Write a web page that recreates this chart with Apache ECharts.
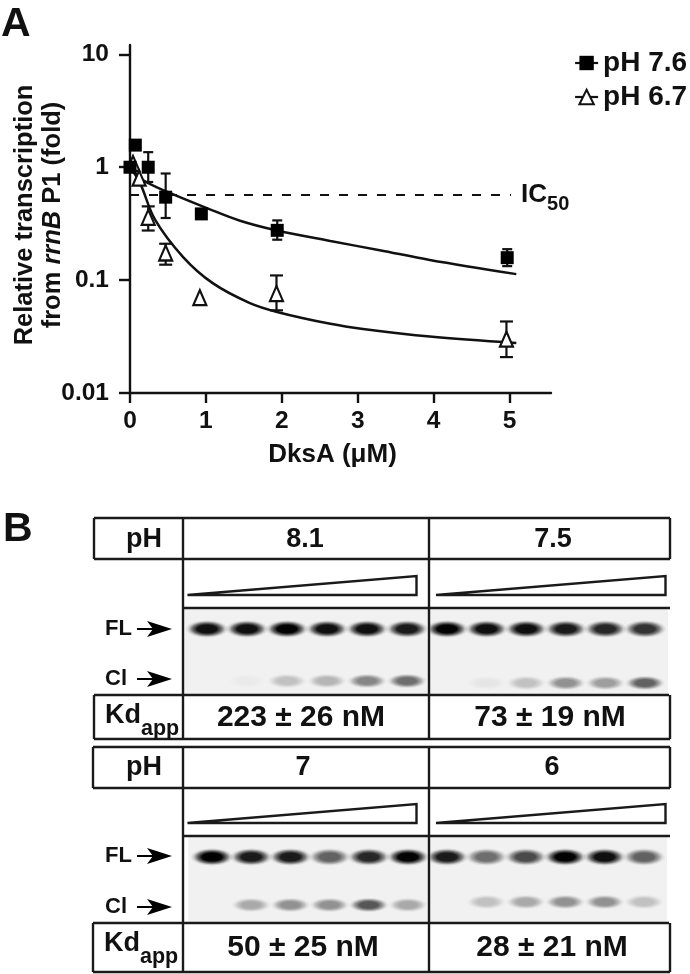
<!DOCTYPE html>
<html><head><meta charset="utf-8">
<style>html,body{margin:0;padding:0;background:#fff}#c{width:690px;height:974px}</style>
<script src="https://cdn.jsdelivr.net/npm/echarts@6/dist/echarts.min.js"></script>
</head><body><div id="c"></div>
<script>
// Panel A data: [DksA uM, relative transcription]
const ph76Points = [[0,1],[0.07,1.57],[0.24,1],[0.47,0.543],[0.94,0.386],[1.94,0.276],[4.97,0.158]];
const ph67Points = [[0.04,1.08],[0.12,0.8],[0.24,0.36],[0.47,0.174],[0.92,0.07],[1.93,0.076],[4.96,0.03]];
// [DksA uM, low, high]
const ph76Errors = [[0.24,0.74,1.36],[0.47,0.355,0.88],[1.94,0.228,0.338],[4.97,0.133,0.188]];
const ph67Errors = [[0.24,0.275,0.45],[0.47,0.137,0.21],[1.93,0.054,0.11],[4.96,0.0208,0.043]];
const ph76Curve = [[0,1],[0.17,0.77],[0.47,0.614],[1.03,0.43],[1.45,0.336],[1.94,0.275],[2.64,0.222],[3.29,0.184],[3.95,0.151],[5.09,0.113]];
const ph67Curve = [[0,1],[0.13,0.73],[0.33,0.343],[0.7,0.16],[1.09,0.094],[1.58,0.0626],[1.95,0.052],[2.64,0.041],[3.07,0.0369],[3.95,0.0316],[5.09,0.0277]];
const ic50 = 0.574;
const yTicks = [0.01,0.1,1,10];
// Panel B data
const headerLabels = ['8.1','7.5','7','6'];
const kdLabels = ['223 ± 26 nM','73 ± 19 nM','50 ± 25 nM','28 ± 21 nM'];
const flBands = [[.95,.95,1,.95,.95,.9],[1,.95,.95,.9,.85,.8],[1,.9,.9,.6,.85,1],[.9,.55,.7,1,.95,.6]];
const clBands = [[0,.03,.2,.25,.45,.55],[0,.05,.2,.4,.35,.6],[0,.3,.4,.4,.65,.3],[0,.2,.3,.4,.4,.2]];

const FONT = '"Liberation Sans", Arial, sans-serif';
const INK = '#111';
const chart = echarts.init(document.getElementById('c'), null, {renderer:'canvas'});

// ---- layout of the four gels
const gelBox = [
 {l:184,r:429,t:609,b:695,x1:207,x6:407,fl:629,cl:681},
 {l:429,r:668,t:609,b:695,x1:447,x6:645,fl:629,cl:683},
 {l:188,r:429,t:837,b:923,x1:212,x6:408,fl:857,cl:905},
 {l:429,r:667,t:837,b:923,x1:447,x6:644,fl:857,cl:902}
];
const grids = [{left:130,right:690-551,top:45,bottom:974-393,outerBoundsMode:'none'}];
const xAxes = [{
  type:'value',gridIndex:0,min:0,max:5.547,interval:1,
  splitLine:{show:false},
  axisLine:{onZero:false,lineStyle:{color:INK,width:2.4}},
  axisTick:{length:10,lineStyle:{color:INK,width:2.4},customValues:[0,1,2,3,4,5]},
  axisLabel:{margin:16,fontFamily:FONT,fontWeight:'bold',fontSize:24.5,color:INK,customValues:[0,1,2,3,4,5]},
  name:'DksA (μM)',nameLocation:'middle',nameGap:49,nameMoveOverlap:false,
  nameTextStyle:{fontFamily:FONT,fontWeight:'bold',fontSize:26,color:INK,padding:[0,16,0,0]}
}];
const yAxes = [{
  type:'log',gridIndex:0,logBase:10,min:0.01,max:12.1,
  splitLine:{show:false},minorTick:{show:false},
  axisLine:{lineStyle:{color:INK,width:2.4}},
  axisTick:{length:11,lineStyle:{color:INK,width:2.4},customValues:yTicks},
  axisLabel:{margin:21,fontFamily:FONT,fontWeight:'bold',fontSize:24.5,color:INK,customValues:yTicks,formatter:v=>String(v)},
  name:'{a|Relative transcription}\n{a|from }{i|rrnB}{a| P1 (fold)}',
  nameLocation:'middle',nameRotate:90,nameGap:63,nameMoveOverlap:false,
  nameTextStyle:{padding:[0,0,0,8],rich:{
    a:{fontFamily:FONT,fontWeight:'bold',fontSize:25.5,color:INK,lineHeight:28},
    i:{fontFamily:FONT,fontWeight:'bold',fontStyle:'italic',fontSize:25.5,color:INK,lineHeight:28}}}
}];
gelBox.forEach((g,i)=>{
  const step=(g.x6-g.x1)/5, rowH=g.cl-g.fl;
  grids.push({left:g.l,width:g.r-g.l,top:g.t,height:g.b-g.t,show:true,backgroundColor:'#f1f1f1',borderWidth:0,outerBoundsMode:'none'});
  xAxes.push({type:'value',gridIndex:i+1,show:false,min:1-(g.x1-g.l)/step,max:6+(g.r-g.x6)/step});
  yAxes.push({type:'value',gridIndex:i+1,show:false,min:-(g.b-g.cl)/rowH,max:1+(g.fl-g.t)/rowH});
});

// ---- series
const errSeries=(name,rows,cap,z)=>({
  type:'custom',name,xAxisIndex:0,yAxisIndex:0,z,data:rows,
  renderItem(p,api){
    const a=api.coord([api.value(0),api.value(1)]),b=api.coord([api.value(0),api.value(2)]);
    const st={stroke:INK,lineWidth:2.2,fill:'none'};
    return {type:'group',children:[
      {type:'line',shape:{x1:a[0],y1:a[1],x2:b[0],y2:b[1]},style:st},
      {type:'line',shape:{x1:a[0]-cap,y1:a[1],x2:a[0]+cap,y2:a[1]},style:st},
      {type:'line',shape:{x1:b[0]-cap,y1:b[1],x2:b[0]+cap,y2:b[1]},style:st}
    ]};
  }
});
const series=[
  {type:'line',name:'curve 7.6',data:ph76Curve,smooth:0.35,showSymbol:false,silent:true,z:3,lineStyle:{color:INK,width:2.5},
   markLine:{silent:true,symbol:'none',animation:false,lineStyle:{color:INK,width:2.2,type:[9,10]},
     label:{position:'end',distance:10,formatter:'{a|IC}{b|50}',rich:{
       a:{fontFamily:FONT,fontWeight:'bold',fontSize:26,color:INK,lineHeight:30},
       b:{fontFamily:FONT,fontWeight:'bold',fontSize:20,color:INK,lineHeight:30,padding:[21,0,0,0]}}},
     data:[[{coord:[0,ic50]},{coord:[5.02,ic50]}]]}},
  {type:'line',name:'curve 6.7',data:ph67Curve,smooth:0.35,showSymbol:false,silent:true,z:3,lineStyle:{color:INK,width:2.5}},
  errSeries('err 6.7',ph67Errors,6.5,4),
  {type:'line',name:'pH 6.7',data:ph67Points,symbol:'triangle',symbolSize:[13,15],showAllSymbol:true,z:5,
   lineStyle:{width:0},itemStyle:{color:'#fff',borderColor:INK,borderWidth:2.2}},
  errSeries('err 7.6',ph76Errors,5,6),
  {type:'line',name:'pH 7.6',data:ph76Points,symbol:'rect',symbolSize:13,showAllSymbol:true,z:7,
   lineStyle:{width:0},itemStyle:{color:'#000',borderColor:'#000',borderWidth:0}}
];
gelBox.forEach((g,i)=>{
  const data=[];
  flBands[i].forEach((v,k)=>data.push([k+1,1,v]));
  clBands[i].forEach((v,k)=>data.push([k+1,0,v]));
  series.push({type:'custom',name:'gel '+headerLabels[i],xAxisIndex:i+1,yAxisIndex:i+1,clip:true,data,
    renderItem(p,api){
      const c=api.coord([api.value(0),api.value(1)]),v=api.value(2),isFL=api.value(1)===1;
      const a=x=>'rgba(0,0,0,'+(x*Math.min(1,v)).toFixed(3)+')';
      return {type:'circle',x:c[0],y:c[1],scaleX:isFL?2.4:2.7,scaleY:1,shape:{cx:0,cy:0,r:isFL?9:7.5},
        style:{fill:{type:'radial',x:.5,y:.5,r:.5,colorStops:[
          {offset:0,color:a(1)},{offset:.45,color:a(.98)},{offset:.68,color:a(.55)},{offset:.85,color:a(.15)},{offset:1,color:a(0)}]}}};
    }});
});

// ---- table of panel B, as graphic elements
const LW=2.4;
const seg=(x1,y1,x2,y2)=>({type:'line',z:20,shape:{x1,y1,x2,y2},style:{stroke:'#1a1a1a',lineWidth:LW}});
const txt=(x,y,text,size,align)=>({type:'text',z:21,x,y,style:{text,fontFamily:FONT,fontWeight:'bold',fontSize:size,fill:INK,align:align||'center',verticalAlign:'middle'}});
const wedge=(x1,x2,yb,yt)=>({type:'polygon',z:20,shape:{points:[[x1,yb],[x2,yt],[x2,yb]]},style:{fill:'#fff',stroke:'#1a1a1a',lineWidth:2.4}});
const arrow=(y)=>({type:'group',z:21,children:[
  {type:'line',z:21,shape:{x1:137,y1:y,x2:158,y2:y},style:{stroke:'#000',lineWidth:2}},
  {type:'polygon',z:21,shape:{points:[[172,y],[147,y-8],[153,y],[147,y+8]]},style:{fill:'#000'}}
]});
const kd=(x,y)=>({type:'text',z:21,x,y,style:{text:'{k|Kd}{s|app}',verticalAlign:'middle',rich:{
   k:{fontFamily:FONT,fontWeight:'bold',fontSize:27,fill:INK,lineHeight:30},
   s:{fontFamily:FONT,fontWeight:'bold',fontSize:21.5,fill:INK,lineHeight:30,padding:[26,0,0,0]}}}});
const table=(L,T,y1,y2,y3,B,fx,cx,hy,ky,kdLeft)=>[
  seg(L,T,670,T),seg(L,y1,670,y1),seg(183,y2,670,y2),seg(L,y3,669,y3),seg(L,B,670,B),
  seg(L,T,L,y1),seg(L,y3,L,B),seg(183,T,183,B),seg(429,T,429,B),
  seg(670,T,670,y1),seg(670,y3,670,B),
  wedge(187.5,416.5,y2-13,y2-32),wedge(436,665.5,y2-13,y2-32),
  txt(144,hy,'pH',27),
  txt(105,fx,'FL',22,'left'),arrow(fx),txt(105,cx,'Cl',22,'left'),arrow(cx),
  kd(kdLeft,ky)
];
const graphicEls=[
  txt(1,25,'A',41,'left'),txt(3,530,'B',41,'left'),
  ...table(94,518,559,608,695,739,629,679,540,716,105),
  ...table(93,747,788,836,923,972,856,907,768,944,104),
  txt(305,540,headerLabels[0],27),txt(553,540,headerLabels[1],27),
  txt(303,768,headerLabels[2],27),txt(552,768,headerLabels[3],27),
  txt(301,718,kdLabels[0],30),txt(550,718,kdLabels[1],30),
  txt(303,948,kdLabels[2],30),txt(552,948,kdLabels[3],30)
];

chart.setOption({
  animation:false,backgroundColor:'#fff',
  grid:grids,xAxis:xAxes,yAxis:yAxes,series,
  legend:{show:true,orient:'vertical',left:569,top:44,itemWidth:23,itemHeight:18,itemGap:6,
    data:['pH 7.6','pH 6.7'],selectedMode:false,
    lineStyle:{width:2.2,color:INK},
    textStyle:{fontFamily:FONT,fontWeight:'bold',fontSize:28,color:INK,padding:[0,0,0,0]}},
  graphic:{elements:graphicEls}
});
</script></body></html>
